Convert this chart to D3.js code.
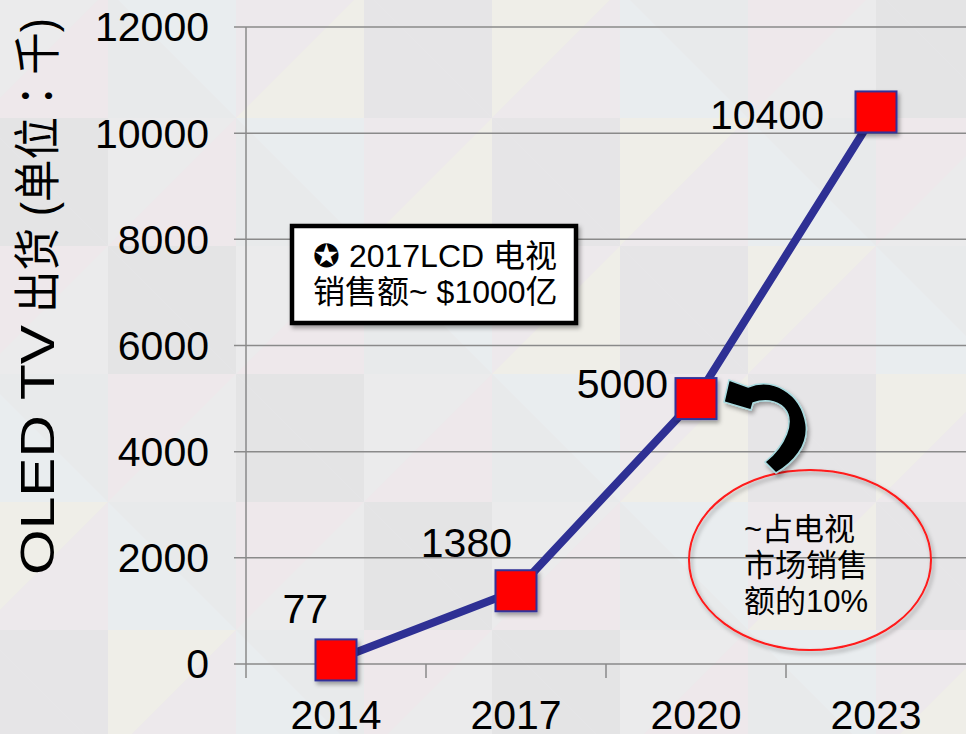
<!DOCTYPE html>
<html><head><meta charset="utf-8">
<script src="https://cdn.jsdelivr.net/npm/d3@7"></script>
<style>
html,body{margin:0;padding:0;background:#e9e8ea;}
svg{display:block;}
text{font-family:"Liberation Sans",Arial,"Noto Sans CJK SC",sans-serif;fill:#000;}
</style></head>
<body>
<script>
// ---- data ----
const categories = ["2014", "2017", "2020", "2023"];
const shipments = [77, 1380, 5000, 10400];
const valueLabels = ["77", "1380", "5000", "10400"];
const yTicks = [0, 2000, 4000, 6000, 8000, 10000, 12000];
const yTitleLatin = "OLED TV";
const yTitleCjk = ["出货 (单位", "：", "千)"];
const boxLines = ["✪ 2017LCD 电视", "销售额~ $1000亿"];
const ellipseLines = ["~占电视", "市场销售", "额的10%"];
// label placement relative to each marker (dx to text end, dy to baseline)
const labelOffsets = [[-8, -37], [-4, -34], [-28, -1], [-52, 17]];

const W = 966, H = 734;
const svg = d3.select("body").append("svg").attr("width", W).attr("height", H);

const defs = svg.append("defs");
const f = defs.append("filter").attr("id", "sh").attr("x", "-30%").attr("y", "-30%").attr("width", "160%").attr("height", "160%");
f.append("feDropShadow").attr("dx", 2).attr("dy", 3).attr("stdDeviation", 2).attr("flood-color", "#000").attr("flood-opacity", 0.35);

// ---- background mosaic (decorative) ----
const bgCols = ["#ebebec", "#e6e5e7", "#eee8eb", "#e9edef", "#efeee8", "#e4e4e5", "#ede9ec", "#e8eaeb"];
const tile = 128;
const bg = svg.append("g");
bg.append("rect").attr("width", W).attr("height", H).attr("fill", "#eae9eb");
for (let i = 0; i * tile < W + 20; i++) {
  for (let j = 0; j * tile < H + 10; j++) {
    const x0 = i * tile - 20, y0 = j * tile - 10;
    const c1 = bgCols[(i * 3 + j * 5) % bgCols.length];
    const c2 = bgCols[(i * 5 + j * 3 + 2) % bgCols.length];
    const flip = (i + j) % 2 === 0;
    const pA = flip ? [[x0, y0], [x0 + tile, y0], [x0, y0 + tile]] : [[x0, y0], [x0 + tile, y0], [x0 + tile, y0 + tile]];
    const pB = flip ? [[x0 + tile, y0], [x0 + tile, y0 + tile], [x0, y0 + tile]] : [[x0, y0], [x0, y0 + tile], [x0 + tile, y0 + tile]];
    bg.append("polygon").attr("points", pA.join(" ")).attr("fill", c1);
    bg.append("polygon").attr("points", pB.join(" ")).attr("fill", c2);
  }
}

// ---- scales ----
const x = d3.scaleBand().domain(categories).range([246, 966]);
const y = d3.scaleLinear().domain([0, 12000]).range([664, 27]);
const cx = d => x(d) + x.bandwidth() / 2;

// ---- grid ----
const grid = svg.append("g");
grid.selectAll("line.h").data(yTicks).join("line")
  .attr("x1", 234).attr("x2", W).attr("y1", d => y(d)).attr("y2", d => y(d))
  .attr("stroke", "#8a8a8a").attr("stroke-width", 1.5);
grid.append("line").attr("x1", 246).attr("x2", 246).attr("y1", y(12000)).attr("y2", 678)
  .attr("stroke", "#8a8a8a").attr("stroke-width", 1.5);
grid.selectAll("line.t").data(categories.slice(1)).join("line")
  .attr("x1", d => x(d)).attr("x2", d => x(d)).attr("y1", y(0)).attr("y2", 678)
  .attr("stroke", "#8a8a8a").attr("stroke-width", 1.5);

// ---- axes labels ----
svg.append("g").selectAll("text").data(yTicks).join("text")
  .attr("x", 209).attr("y", d => y(d)).attr("dy", "0.35em")
  .attr("text-anchor", "end").attr("font-size", 41).text(d => d);
svg.append("g").selectAll("text").data(categories).join("text")
  .attr("x", d => cx(d)).attr("y", 729)
  .attr("text-anchor", "middle").attr("font-size", 41).text(d => d);

// y title: Latin part and CJK part
svg.append("text").attr("transform", "translate(54,575) rotate(-90)")
  .attr("font-size", 48).attr("textLength", 250).attr("lengthAdjust", "spacingAndGlyphs")
  .text(yTitleLatin);
const tc = svg.append("text").attr("transform", "translate(54,313) rotate(-90)")
  .attr("font-size", 47).attr("textLength", 295).attr("lengthAdjust", "spacingAndGlyphs");
yTitleCjk.forEach((s, i) => {
  const t = tc.append("tspan").text(s);
  if (i === 1) t.style("font-family", '"Noto Sans CJK TC","Noto Sans CJK JP",sans-serif');
});

// ---- line + markers ----
const pts = categories.map((c, i) => ({c, v: shipments[i], label: valueLabels[i], off: labelOffsets[i]}));
svg.append("path").datum(pts)
  .attr("d", d3.line().x(d => cx(d.c)).y(d => y(d.v)))
  .attr("fill", "none").attr("stroke", "#2e3094").attr("stroke-width", 8);
const ms = 41;
svg.append("g").selectAll("rect").data(pts).join("rect")
  .attr("x", d => cx(d.c) - ms / 2).attr("y", d => y(d.v) - ms / 2)
  .attr("width", ms).attr("height", ms)
  .attr("fill", "#ff0000").attr("stroke", "#333399").attr("stroke-width", 2)
  .attr("filter", "url(#sh)");
svg.append("g").selectAll("text").data(pts).join("text")
  .attr("x", d => cx(d.c) + d.off[0]).attr("y", d => y(d.v) + d.off[1])
  .attr("text-anchor", "end").attr("font-size", 41).text(d => d.label);

// ---- annotation box ----
svg.append("rect").attr("x", 292).attr("y", 226).attr("width", 284).attr("height", 97)
  .attr("fill", "#fff").attr("stroke", "#000").attr("stroke-width", 4.5).attr("filter", "url(#sh)");
svg.append("g").selectAll("text").data(boxLines).join("text")
  .attr("x", 313).attr("y", (d, i) => 267 + i * 36)
  .attr("font-size", 32).text(d => d);

// ---- ellipse annotation ----
svg.append("ellipse").attr("cx", 810).attr("cy", 560).attr("rx", 121).attr("ry", 90)
  .attr("fill", "none").attr("stroke", "#ff1a1a").attr("stroke-width", 2).attr("filter", "url(#sh)");
svg.append("g").selectAll("text").data(ellipseLines).join("text")
  .attr("x", 744).attr("y", (d, i) => 540 + i * 36)
  .attr("font-size", 31).text(d => d);

// ---- curved arrow ----
svg.append("path")
  .attr("d", "M724,402 L729,380 L748,387 C772,377 801,392 806,424 C809,446 793,463 776,473 L765,462 C785,446 796,421 784,408 C776,400 764,399 753,403 L751,410 Z")
  .attr("fill", "#000").attr("stroke", "#a8dbe0").attr("stroke-width", 1.5).attr("filter", "url(#sh)");
</script>
</body></html>
